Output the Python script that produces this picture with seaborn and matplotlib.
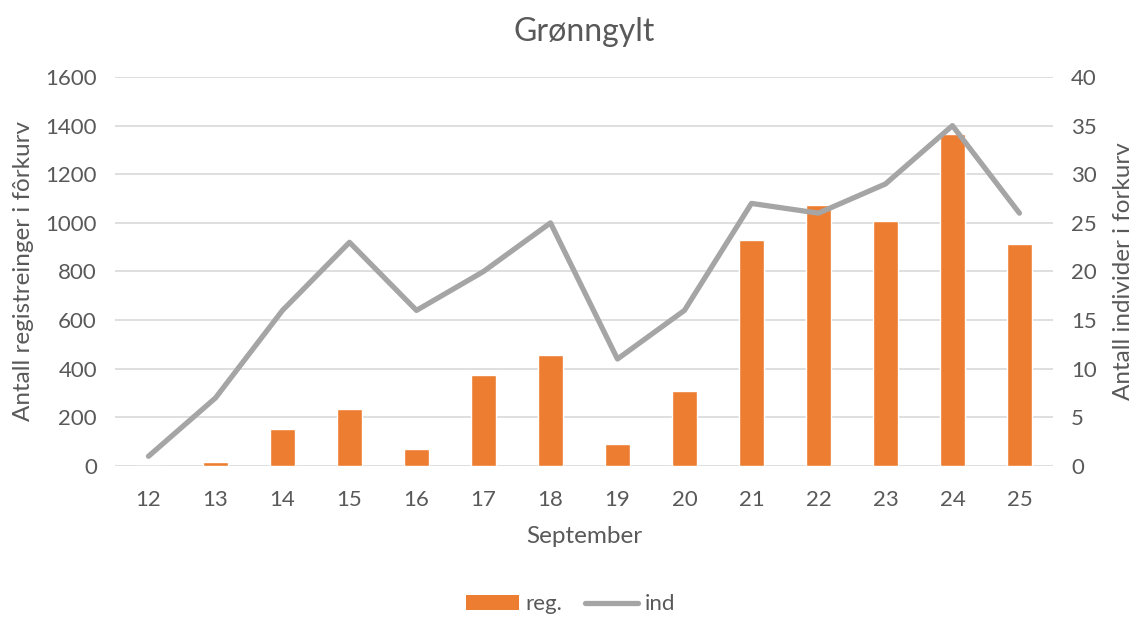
import matplotlib
matplotlib.use("Agg")
import matplotlib.pyplot as plt
from matplotlib.patches import Patch
from matplotlib.lines import Line2D
import seaborn as sns
import pandas as pd

#%% data
days = ["12", "13", "14", "15", "16", "17", "18", "19", "20", "21", "22", "23", "24", "25"]
reg = [0, 18, 151, 236, 71, 373, 457, 92, 310, 928, 1074, 1006, 1367, 913]
ind = [1, 7, 16, 23, 16, 20, 25, 11, 16, 27, 26, 29, 35, 26]

df = pd.DataFrame({"day": days, "reg": reg, "ind": ind})

bar_color = "#ED7D31"
line_color = "#A5A5A5"
text_color = "#595959"
grid_color = "#D9D9D9"

#%%
sns.set_style("white")
plt.rcParams["font.family"] = ["Lato", "DejaVu Sans"]
plt.rcParams["text.color"] = text_color
plt.rcParams["axes.labelcolor"] = text_color
plt.rcParams["xtick.color"] = text_color
plt.rcParams["ytick.color"] = text_color

fig = plt.figure(figsize=(11.41, 6.19), dpi=100)
ax = fig.add_axes([0.1008, 0.2472, 0.822, 0.6284])

sns.barplot(data=df, x="day", y="reg", color=bar_color, width=0.38,
            saturation=1, ax=ax, zorder=2)
ax.set_ylim(0, 1600)
ax.set_yticks(range(0, 1601, 200))
ax.set_xlim(-0.5, len(days) - 0.5)
ax.yaxis.grid(True, color=grid_color, linewidth=1.2, zorder=0)
ax.set_axisbelow(True)

ax2 = ax.twinx()
sns.pointplot(data=df, x="day", y="ind", color=line_color, markers="",
              errorbar=None, ax=ax2, linewidth=3.8, zorder=3)
ax2.set_ylim(0, 40)
ax2.set_yticks(range(0, 41, 5))
ax2.set_xlim(-0.5, len(days) - 0.5)

for a in (ax, ax2):
    for s in a.spines.values():
        s.set_visible(False)
    a.tick_params(length=0, labelsize=16)
ax.tick_params(axis="y", pad=13)
ax2.tick_params(axis="y", pad=13)
ax.tick_params(axis="x", pad=17)

ax.set_xlabel("September", fontsize=17.5, labelpad=12)
ax.set_ylabel("Antall registreinger i fôrkurv", fontsize=17.5, labelpad=8)
ax2.set_ylabel("Antall individer i forkurv", fontsize=17.5, labelpad=12)
ax.set_title("Grønngylt", fontsize=23, color=text_color, pad=26)

handles = [Patch(facecolor=bar_color, edgecolor="none"),
           Line2D([], [], color=line_color, linewidth=3.8)]
fig.legend(handles, ["reg.", "ind"], loc="lower center", ncol=2,
           frameon=False, fontsize=16, bbox_to_anchor=(0.5, -0.025),
           handlelength=2.4, handletextpad=0.3, columnspacing=1.0)

fig.savefig("out.png", dpi=100)
